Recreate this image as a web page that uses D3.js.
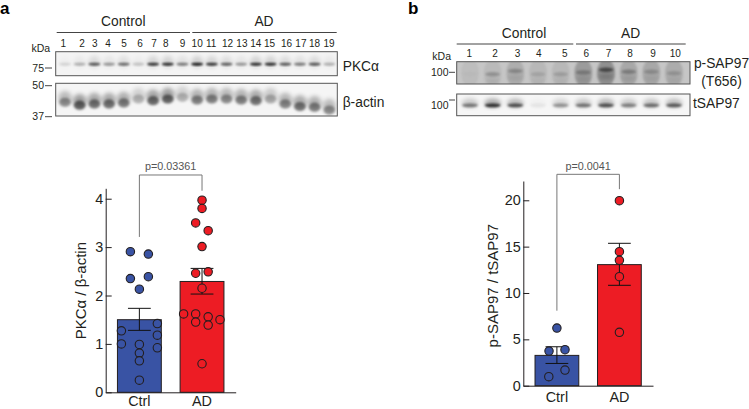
<!DOCTYPE html>
<html>
<head>
<meta charset="utf-8">
<script src="https://cdn.jsdelivr.net/npm/d3@7"></script>
<style>
  html, body { margin: 0; padding: 0; background: #fff; }
  svg { display: block; }
  text { font-family: "Liberation Sans", Arial, sans-serif; }
</style>
</head>
<body>
<svg id="chart" width="749" height="409"></svg>
<script>
// ---- bar chart data, panel a
const groups = ['Ctrl', 'AD'];
const pkcMeans = [1.5, 2.29];
const pkcErrLow = [1.28, 2.03];
const pkcErrHigh = [1.735, 2.56];
const pkcCtrl = [2.905, 2.857, 2.35, 2.39, 2.13, 1.42, 1.27, 1.18, 1.0, 0.99, 0.92, 0.81, 0.65, 0.25];
const pkcCtrlJitter = [-0.41, 0.41, -0.41, 0.41, 0, 0.82, -0.82, 0.82, -0.82, 0, 0.82, 0, 0, 0];
const pkcAd = [3.97, 3.8, 3.5, 3.34, 3.01, 2.46, 2.49, 2.15, 1.62, 1.62, 1.56, 1.45, 1.39, 1.5, 0.59];
const pkcAdJitter = [0, 0, -0.29, 0.28, 0, -0.29, 0.28, 0, -0.84, -0.29, 0.28, -0.29, 0.28, 0.82, 0];
const pkcTicks = [0, 1, 2, 3, 4];

// ---- bar chart data, panel b
const sapMeans = [3.27, 13.06];
const sapErrLow = [2.4, 10.83];
const sapErrHigh = [4.2, 15.36];
const sapCtrl = [6.22, 3.74, 3.88, 1.69, 0.97];
const sapCtrlJitter = [0, -0.36, 0.37, 0.37, -0.37];
const sapAd = [19.96, 14.46, 13.52, 11.76, 5.76];
const sapAdJitter = [0, 0, 0, 0, 0];
const sapTicks = [0, 5, 10, 15, 20];

// ---- blot data, panel a (density 0-1 per lane, position = fraction of blot height)
const lanesA = d3.range(1, 20);
const laneLabelNudgeA = [-1.7, 2.3, 0.3, -1, 0.3, 1.7, 1, -2, 0, 0, -0.7, 1, 0.7, 0, -1, 1.3, 1, 0, -0.3];
const pkcDensity = [0.14, 0.3, 0.72, 0.42, 0.62, 0.22, 0.88, 0.92, 0.55, 1, 0.88, 0.68, 0.42, 0.92, 0.92, 0.7, 0.55, 0.72, 0.3];
const actinDensity = [0.55, 0.82, 0.72, 0.72, 0.66, 0.34, 0.76, 0.8, 0.34, 0.62, 0.62, 0.56, 0.62, 0.7, 0.4, 0.6, 0.7, 0.64, 0.55];
const actinPos = [0.51, 0.6, 0.56, 0.56, 0.53, 0.41, 0.46, 0.41, 0.36, 0.44, 0.41, 0.41, 0.44, 0.46, 0.41, 0.56, 0.64, 0.66, 0.75];

// ---- blot data, panel b
const lanesB = d3.range(1, 11);
const laneLabelNudgeB = [-0.7, 2.3, 2.3, 0.7, 4, 3, 2.6, 1.3, 1.6, 1.3];
const pSapDensity = [0.05, 0.4, 0.42, 0.22, 0.28, 0.45, 0.95, 0.5, 0.36, 0.3];
const pSapPos = [0.55, 0.56, 0.42, 0.56, 0.56, 0.48, 0.36, 0.45, 0.45, 0.52];
const pSapSmear = [0.08, 0.1, 0.2, 0.12, 0.12, 0.36, 0.45, 0.25, 0.25, 0.22];
const tSapDensity = [0.6, 1, 0.82, 0.08, 0.46, 0.62, 0.82, 0.56, 0.66, 0.76];

const colors = { Ctrl: '#3953a4', AD: '#ed1c24' };
const svg = d3.select('#chart');

// blur used for all the blot bands
const defs = svg.append('defs');
function addBlur(id, dev) {
  defs.append('filter').attr('id', id)
    .attr('x', '-5%').attr('y', '-30%').attr('width', '110%').attr('height', '160%')
    .append('feGaussianBlur').attr('stdDeviation', dev);
}
addBlur('blur1', 1.2);
addBlur('blur2', 2.2);

// One blot rectangle: background, blurred lanes, then the frame on top
function drawBlot(id, box, bg, frame, drawLanes) {
  defs.append('clipPath').attr('id', id).append('rect')
    .attr('x', box.x0).attr('y', box.y0)
    .attr('width', box.x1 - box.x0).attr('height', box.y1 - box.y0);
  const g = svg.append('g');
  g.append('rect')
    .attr('x', box.x0).attr('y', box.y0)
    .attr('width', box.x1 - box.x0).attr('height', box.y1 - box.y0)
    .attr('fill', bg);
  drawLanes(g.append('g').attr('clip-path', `url(#${id})`));
  g.append('rect')
    .attr('x', box.x0).attr('y', box.y0)
    .attr('width', box.x1 - box.x0).attr('height', box.y1 - box.y0)
    .attr('fill', 'none').attr('stroke', frame).attr('stroke-width', 1);
}

function bandLayer(parent, blur, density, cx, cy, rx, ry, k) {
  parent.append('g').attr('filter', `url(#${blur})`)
    .selectAll('ellipse').data(density).join('ellipse')
    .attr('cx', (d, i) => cx(i))
    .attr('cy', (d, i) => cy(i))
    .attr('rx', rx)
    .attr('ry', ry)
    .attr('fill', '#000')
    .attr('opacity', d => d * k);
}

function text(x, y, str, size, anchor, fill, weight) {
  return svg.append('text')
    .attr('x', x).attr('y', y)
    .attr('font-size', size)
    .attr('text-anchor', anchor || 'start')
    .attr('fill', fill || '#231f20')
    .attr('font-weight', weight || 'normal')
    .text(str);
}

function hline(x0, x1, y, stroke, w) {
  svg.append('line')
    .attr('x1', x0).attr('x2', x1).attr('y1', y).attr('y2', y)
    .attr('stroke', stroke || '#444').attr('stroke-width', w || 1);
}

// ---------- panel a blots
const boxA1 = { x0: 55.7, x1: 337.3, y0: 51.7, y1: 75.7 };
const boxA2 = { x0: 55.7, x1: 337.3, y0: 83.3, y1: 116 };
const xLaneA = d3.scalePoint().domain(lanesA).range([65, 329.3]);
const a1Y = d3.scaleLinear().domain([0, 1]).range([boxA1.y0, boxA1.y1]);
const a2Y = d3.scaleLinear().domain([0, 1]).range([boxA2.y0, boxA2.y1]);
const laneXA = i => xLaneA(lanesA[i]);

drawBlot('clipA1', boxA1, '#f4f4f4', '#555', g => {
  bandLayer(g, 'blur2', pkcDensity, laneXA, () => a1Y(0.42), 6, 6, 0.14);
  bandLayer(g, 'blur1', pkcDensity, laneXA, () => a1Y(0.52), 6, 1.5, 0.9);
});
drawBlot('clipA2', boxA2, '#f5f5f5', '#555', g => {
  bandLayer(g, 'blur2', actinDensity, laneXA, i => a2Y(actinPos[i] - 0.06), 6.8, 7, 0.42);
  bandLayer(g, 'blur1', actinDensity, laneXA, i => a2Y(actinPos[i] + 0.07), 5.8, 4.6, 0.62);
});

text(0, 13.5, 'a', 17, 'start', '#000', 'bold');
text(123.3, 26, 'Control', 13.8, 'middle');
text(264, 26, 'AD', 13.8, 'middle');
hline(56.7, 190, 32.5);
hline(192.3, 336.7, 32.5);
lanesA.forEach((d, i) => text(xLaneA(d) + laneLabelNudgeA[i], 47.3, d, 10, 'middle'));
text(31.5, 51.5, 'kDa', 10.5);
text(44, 71.6, '75', 10.5, 'end');
text(44, 89.3, '50', 10.5, 'end');
text(44, 120.3, '37', 10.5, 'end');
hline(45, 52, 68);
hline(45, 52, 85.7);
hline(45, 52, 116.7);
text(342.7, 70.5, 'PKC\u03B1', 13.8);
text(342.7, 106.5, '\u03B2-actin', 13.8);

// ---------- panel b blots
const boxB1 = { x0: 456.7, x1: 690, y0: 61.7, y1: 84 };
const boxB2 = { x0: 456.7, x1: 690, y0: 94, y1: 115.7 };
const xLaneB = d3.scalePoint().domain(lanesB).range([470, 674]);
const b1Y = d3.scaleLinear().domain([0, 1]).range([boxB1.y0, boxB1.y1]);
const b2Y = d3.scaleLinear().domain([0, 1]).range([boxB2.y0, boxB2.y1]);
const laneXB = i => xLaneB(lanesB[i]);

drawBlot('clipB1', boxB1, '#c6c6c6', '#555', g => {
  bandLayer(g, 'blur1', pSapSmear, laneXB, () => b1Y(0.5), 9, 14, 0.6);
  bandLayer(g, 'blur1', pSapDensity, laneXB, i => b1Y(pSapPos[i]), 7.5, 2.2, 0.55);
  bandLayer(g, 'blur2', pSapDensity, laneXB, i => b1Y(pSapPos[i] + 0.3), 8, 3, 0.2);
});
drawBlot('clipB2', boxB2, '#f6f6f6', '#555', g => {
  bandLayer(g, 'blur2', tSapDensity, laneXB, () => b2Y(0.42), 8.5, 4.5, 0.3);
  bandLayer(g, 'blur1', tSapDensity, laneXB, () => b2Y(0.52), 8, 1.9, 0.75);
});

text(408, 14, 'b', 17, 'start', '#000', 'bold');
text(524, 38.3, 'Control', 13.8, 'middle');
text(630.7, 38.3, 'AD', 13.8, 'middle');
hline(456.7, 573.3, 44);
hline(576, 685.7, 44);
lanesB.forEach((d, i) => text(xLaneB(d) + laneLabelNudgeB[i], 57.3, d, 10, 'middle'));
text(432.3, 60.3, 'kDa', 10.5);
text(448.5, 76, '100', 10.5, 'end');
text(448.5, 108.7, '100', 10.5, 'end');
hline(449, 455, 72.3);
hline(449, 455, 100);
text(721.5, 68.3, 'p-SAP97', 13.8, 'middle');
text(721.5, 85.7, '(T656)', 13.8, 'middle');
text(693, 108.3, 'tSAP97', 13.8);

// ---------- bar panels
function drawBars(cfg) {
  const x = d3.scaleBand().domain(groups).range(cfg.xRange).paddingInner(0.3).paddingOuter(0.1875);
  const y = d3.scaleLinear().domain(cfg.yDomain).range(cfg.yRange);
  const jitter = d3.scaleLinear().domain([-1, 1]).range([-x.bandwidth() / 2, x.bandwidth() / 2]);
  const mid = g => x(g) + x.bandwidth() / 2;
  const g = svg.append('g');

  // bars
  g.selectAll('rect.bar').data(groups).join('rect')
    .attr('class', 'bar')
    .attr('x', d => x(d))
    .attr('y', (d, i) => y(cfg.means[i]))
    .attr('width', x.bandwidth())
    .attr('height', (d, i) => y(0) - y(cfg.means[i]))
    .attr('fill', d => colors[d])
    .attr('stroke', '#231f20')
    .attr('stroke-width', 1);

  // error bars
  const capW = x.bandwidth() * 0.26;
  groups.forEach((grp, i) => {
    const err = g.append('g').attr('stroke', '#111').attr('stroke-width', 1);
    err.append('line').attr('x1', mid(grp)).attr('x2', mid(grp))
      .attr('y1', y(cfg.low[i])).attr('y2', y(cfg.high[i]));
    [cfg.low[i], cfg.high[i]].forEach(v => {
      err.append('line').attr('x1', mid(grp) - capW).attr('x2', mid(grp) + capW)
        .attr('y1', y(v)).attr('y2', y(v));
    });
  });

  // individual points
  groups.forEach((grp, i) => {
    g.append('g').selectAll('circle').data(cfg.points[i]).join('circle')
      .attr('cx', (d, k) => mid(grp) + jitter(cfg.jitter[i][k]))
      .attr('cy', d => y(d))
      .attr('r', 4.2)
      .attr('fill', colors[grp])
      .attr('stroke', '#231f20')
      .attr('stroke-width', 1.1);
  });

  // axes
  const yAxis = g.append('g')
    .attr('transform', `translate(${cfg.xRange[0]},0)`)
    .call(d3.axisLeft(y).tickValues(cfg.ticks).tickFormat(d3.format('d'))
      .tickSizeInner(-6).tickSizeOuter(0).tickPadding(2.5));
  const xAxis = g.append('g')
    .attr('transform', `translate(0,${cfg.yRange[0]})`)
    .call(d3.axisBottom(x).tickSize(0).tickPadding(cfg.xPad));
  [yAxis, xAxis].forEach(a => {
    a.selectAll('text').attr('font-size', 14.4).attr('fill', '#231f20')
      .attr('font-family', '"Liberation Sans", Arial, sans-serif');
    a.selectAll('line, path').attr('stroke', '#231f20');
  });

  // y title
  svg.append('text')
    .attr('transform', `translate(${cfg.titleX},${cfg.titleY}) rotate(-90)`)
    .attr('text-anchor', 'middle')
    .attr('font-size', 15)
    .attr('fill', '#231f20')
    .text(cfg.title);

  // significance bracket
  const [legL, legR, top] = cfg.bracket;
  svg.append('path')
    .attr('d', d3.line()([[mid(groups[0]), y(legL)], [mid(groups[0]), y(top)], [mid(groups[1]), y(top)], [mid(groups[1]), y(legR)]]))
    .attr('fill', 'none').attr('stroke', '#777').attr('stroke-width', 1);
  text((mid(groups[0]) + mid(groups[1])) / 2, y(top) - 4.5, cfg.pLabel, 10.8, 'middle', '#555');
}

drawBars({
  xRange: [105.7, 235.7],
  yRange: [392.3, 188.3],
  yDomain: [0, 4.215],
  ticks: pkcTicks,
  means: pkcMeans,
  low: pkcErrLow,
  high: pkcErrHigh,
  points: [pkcCtrl, pkcAd],
  jitter: [pkcCtrlJitter, pkcAdJitter],
  title: 'PKC\u03B1 / \u03B2-actin',
  titleX: 86,
  titleY: 290.7,
  bracket: [3.21, 4.165, 4.49],
  pLabel: 'p=0.03361',
  xPad: 3.6
});

drawBars({
  xRange: [523.3, 653],
  yRange: [385.7, 181],
  yDomain: [0, 22.08],
  ticks: sapTicks,
  means: sapMeans,
  low: sapErrLow,
  high: sapErrHigh,
  points: [sapCtrl, sapAd],
  jitter: [sapCtrlJitter, sapAdJitter],
  title: 'p-SAP97 / tSAP97',
  titleX: 497.5,
  titleY: 285.7,
  bracket: [8.09, 21.2, 22.8],
  pLabel: 'p=0.0041',
  xPad: 6
});
</script>
</body>
</html>
